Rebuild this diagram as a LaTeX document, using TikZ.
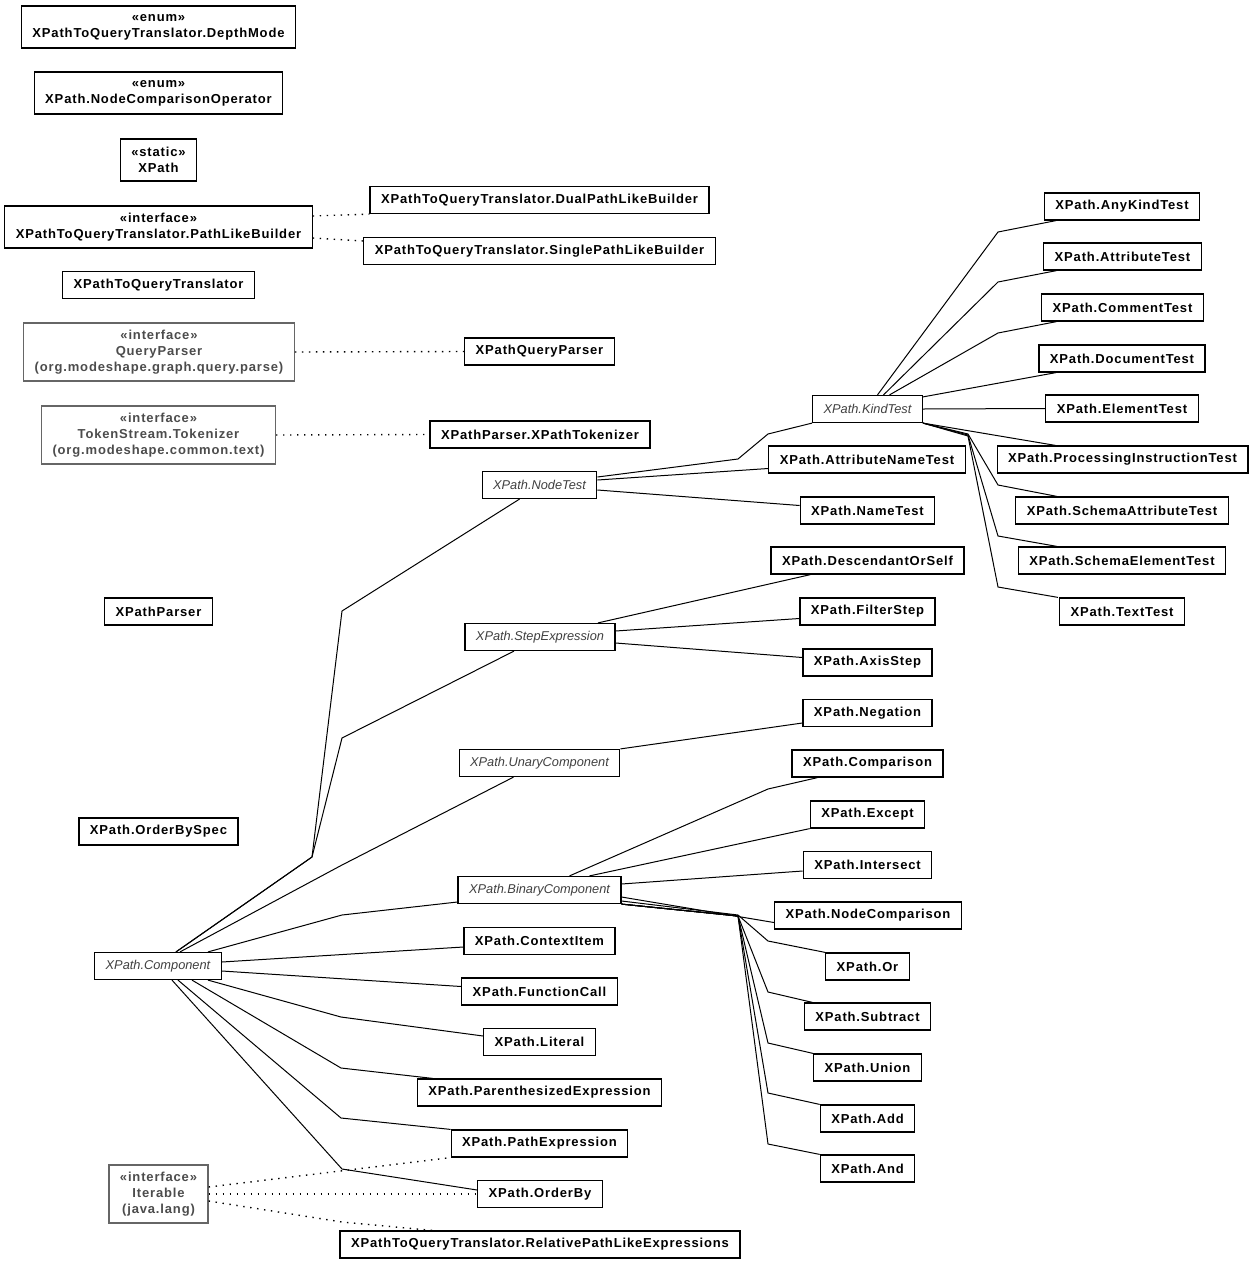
\documentclass[tikz,border=0pt]{standalone}
\usepackage{fontspec}
\newfontfamily\umlfont[LetterSpace=6.5]{Liberation Sans}
\newfontfamily\umlital{Liberation Sans}
\newcommand{\clsfont}{\umlfont\bfseries\fontsize{13}{16}\selectfont}
\newcommand{\absfont}{\umlital\itshape\fontsize{12.8}{16}\selectfont}
\tikzset{
  cls/.style={draw=black, line width=1.2pt, fill=white, font=\clsfont, align=center,
    inner xsep=11pt, inner ysep=0pt, minimum height=27pt},
  abs/.style={cls, font=\absfont, text=black!75},
  ext/.style={cls, draw=black!60, text=black!70, minimum height=58pt},
  two/.style={minimum height=42pt},
  rel/.style={line width=1pt},
  impl/.style={line width=1.4pt, dash pattern=on 1.4pt off 5.6pt},
}
\begin{document}
\begin{tikzpicture}[x=1pt,y=-1pt]
\useasboundingbox (0,0) rectangle (1253,1264);
% left column
\node[cls,two] (depth) at (158.5,27) {«enum»\\XPathToQueryTranslator.DepthMode};
\node[cls,two] (ncop) at (158.5,93) {«enum»\\XPath.NodeComparisonOperator};
\node[cls,two] (xpath) at (158.5,160) {«static»\\XPath};
\node[cls,two] (plb) at (158.5,227) {«interface»\\XPathToQueryTranslator.PathLikeBuilder};
\node[cls] (xqt) at (158.5,285) {XPathToQueryTranslator};
\node[ext] (qp) at (159,352) {«interface»\\QueryParser\\(org.modeshape.graph.query.parse)};
\node[ext] (tokz) at (158.5,435) {«interface»\\TokenStream.Tokenizer\\(org.modeshape.common.text)};
\node[cls] (parser) at (158.5,611.5) {XPathParser};
\node[cls] (obspec) at (158.5,831.5) {XPath.OrderBySpec};
\node[abs] (comp) at (158,966) {XPath.Component};
\node[ext] (iter) at (158.5,1194) {«interface»\\Iterable\\(java.lang)};
% middle column
\node[cls] (dual) at (539.5,200) {XPathToQueryTranslator.DualPathLikeBuilder};
\node[cls] (single) at (539.5,251) {XPathToQueryTranslator.SinglePathLikeBuilder};
\node[cls] (xqp) at (539.5,351.5) {XPathQueryParser};
\node[cls] (xtok) at (540,434.5) {XPathParser.XPathTokenizer};
\node[abs] (nodetest) at (539.5,485) {XPath.NodeTest};
\node[abs] (step) at (540,637) {XPath.StepExpression};
\node[abs] (unary) at (539.5,763) {XPath.UnaryComponent};
\node[abs] (binary) at (539.5,890) {XPath.BinaryComponent};
\node[cls] (ctx) at (539.5,941) {XPath.ContextItem};
\node[cls] (fcall) at (539.5,991.5) {XPath.FunctionCall};
\node[cls] (literal) at (539.5,1042) {XPath.Literal};
\node[cls] (paren) at (539.5,1092.5) {XPath.ParenthesizedExpression};
\node[cls] (pathexpr) at (539.5,1143.5) {XPath.PathExpression};
\node[cls] (orderby) at (540,1194) {XPath.OrderBy};
\node[cls] (relpath) at (540,1244.5) {XPathToQueryTranslator.RelativePathLikeExpressions};
% third column
\node[abs] (kind) at (867.5,409) {XPath.KindTest};
\node[cls] (attrname) at (867,459.5) {XPath.AttributeNameTest};
\node[cls] (name) at (867.5,510.5) {XPath.NameTest};
\node[cls] (desc) at (867.5,560.5) {XPath.DescendantOrSelf};
\node[cls] (filter) at (867.5,611.5) {XPath.FilterStep};
\node[cls] (axis) at (867.5,662.5) {XPath.AxisStep};
\node[cls] (neg) at (867.5,713) {XPath.Negation};
\node[cls] (cmp) at (867.5,763.5) {XPath.Comparison};
\node[cls] (except) at (867.5,814.5) {XPath.Except};
\node[cls] (isect) at (867.5,865) {XPath.Intersect};
\node[cls] (nodecmp) at (868,915.5) {XPath.NodeComparison};
\node[cls] (xor) at (867.5,966.5) {XPath.Or};
\node[cls] (sub) at (867.5,1016.5) {XPath.Subtract};
\node[cls] (union) at (867.5,1067.5) {XPath.Union};
\node[cls] (add) at (867.5,1118.5) {XPath.Add};
\node[cls] (xand) at (867.5,1168.5) {XPath.And};
% right column
\node[cls] (anykind) at (1122,206.5) {XPath.AnyKindTest};
\node[cls] (attr) at (1122.5,256.5) {XPath.AttributeTest};
\node[cls] (comment) at (1122.5,307.5) {XPath.CommentTest};
\node[cls] (doc) at (1122,358.5) {XPath.DocumentTest};
\node[cls] (elem) at (1122,408.5) {XPath.ElementTest};
\node[cls] (pi) at (1122.5,459.5) {XPath.ProcessingInstructionTest};
\node[cls] (sattr) at (1122,510.5) {XPath.SchemaAttributeTest};
\node[cls] (selem) at (1122,560.5) {XPath.SchemaElementTest};
\node[cls] (text) at (1122,611.5) {XPath.TextTest};

% realizations
\draw[impl] ([yshift=11pt]plb.east) -- (dual.south west);
\draw[impl] ([yshift=-11pt]plb.east) -- ([yshift=10pt]single.west);
\draw[impl] (qp.east) -- (xqp.west);
\draw[impl] (tokz.east) -- (xtok.west);
\draw[impl] ([yshift=7pt]iter.east) -- (pathexpr.south west);
\draw[impl] (iter.east) -- (orderby.west);
\draw[impl] ([yshift=-7pt]iter.east) -- (342,1222) -- ([xshift=-108pt]relpath.north);

% XPath.Component
\draw[rel] ([xshift=18pt]comp.north) -- (312,857) -- (342,611) -- ([xshift=-20pt]nodetest.south);
\draw[rel] ([xshift=18pt]comp.north) -- (312,857) -- (342,738) -- ([xshift=-26pt]step.south);
\draw[rel] ([xshift=22pt]comp.north) -- (342,865) -- ([xshift=-26pt]unary.south);
\draw[rel] ([xshift=50pt]comp.north) -- (342,915) -- ([yshift=-12pt]binary.west);
\draw[rel] ([yshift=4pt]comp.east) -- ([yshift=-6pt]ctx.west);
\draw[rel] ([yshift=-5pt]comp.east) -- ([yshift=5pt]fcall.west);
\draw[rel] ([xshift=50pt]comp.south) -- (341,1017) -- ([yshift=6pt]literal.west);
\draw[rel] ([xshift=34pt]comp.south) -- (341,1068) -- ([xshift=16pt]paren.north west);
\draw[rel] ([xshift=20pt]comp.south) -- (341,1118) -- (pathexpr.north west);
\draw[rel] ([xshift=14pt]comp.south) -- (342,1169) -- ([yshift=4pt]orderby.west);

% XPath.NodeTest
\draw[rel] ([yshift=8pt]nodetest.east) -- (738,459) -- (768,434) -- (kind.south west);
\draw[rel] ([yshift=5pt]nodetest.east) -- ([yshift=-9pt]attrname.west);
\draw[rel] ([yshift=-5pt]nodetest.east) -- ([yshift=5pt]name.west);

% XPath.KindTest
\draw[rel] ([xshift=10pt]kind.north) -- (998,232) -- ([xshift=-66pt]anykind.south);
\draw[rel] ([xshift=16pt]kind.north) -- (998,282) -- ([xshift=-66pt]attr.south);
\draw[rel] ([xshift=22pt]kind.north) -- (998,333) -- ([xshift=-66pt]comment.south);
\draw[rel] ([yshift=-2pt]kind.north east) -- ([xshift=-66pt]doc.south);
\draw[rel] (kind.east) -- (elem.west);
\draw[rel] (kind.south east) -- ([xshift=-67pt]pi.north);
\draw[rel] (kind.south east) -- (968,434) -- (998,485) -- ([xshift=-65pt]sattr.north);
\draw[rel] (kind.south east) -- (968,435) -- (998,536) -- ([xshift=-65pt]selem.north);
\draw[rel] (kind.south east) -- (968,436) -- (998,587) -- ([xshift=-64pt]text.north);

% XPath.StepExpression, XPath.UnaryComponent
\draw[rel] ([xshift=58pt]step.north) -- ([xshift=-57pt]desc.south);
\draw[rel] ([yshift=6pt]step.east) -- ([yshift=-7pt]filter.west);
\draw[rel] ([yshift=-6pt]step.east) -- ([yshift=5pt]axis.west);
\draw[rel] (unary.north east) -- ([yshift=-10pt]neg.west);

% XPath.BinaryComponent
\draw[rel] ([xshift=30pt]binary.north) -- (768,789) -- ([xshift=-50pt]cmp.south);
\draw[rel] ([xshift=50pt]binary.north) -- (except.south west);
\draw[rel] ([yshift=6pt]binary.east) -- ([yshift=-6pt]isect.west);
\draw[rel] ([yshift=-7pt]binary.east) -- ([yshift=-7pt]nodecmp.west);
\draw[rel] ([yshift=-11pt]binary.east) -- (738,915) -- (768,941) -- (xor.north west);
\draw[rel] (binary.south east) -- (738,916) -- (768,992) -- ([xshift=-55pt]sub.north);
\draw[rel] (binary.south east) -- (738,916) -- (768,1043) -- (union.north west);
\draw[rel] (binary.south east) -- (738,916) -- (768,1093) -- (add.north west);
\draw[rel] (binary.south east) -- (738,916) -- (768,1144) -- (xand.north west);
\end{tikzpicture}
\end{document}
